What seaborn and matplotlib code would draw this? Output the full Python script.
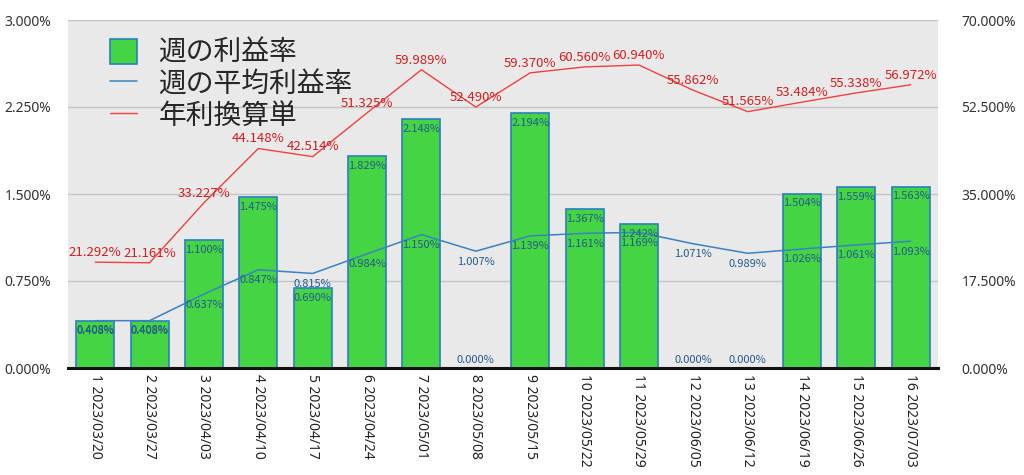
import matplotlib
matplotlib.use("Agg")
import matplotlib.pyplot as plt
import seaborn as sns
import pandas as pd
import numpy as np
from matplotlib.patches import Patch
from matplotlib.lines import Line2D

categories = ["1 2023/03/20", "2 2023/03/27", "3 2023/04/03", "4 2023/04/10",
              "5 2023/04/17", "6 2023/04/24", "7 2023/05/01", "8 2023/05/08",
              "9 2023/05/15", "10 2023/05/22", "11 2023/05/29", "12 2023/06/05",
              "13 2023/06/12", "14 2023/06/19", "15 2023/06/26", "16 2023/07/03"]
weekly = [0.408, 0.408, 1.100, 1.475, 0.690, 1.829, 2.148, 0.000,
          2.194, 1.367, 1.242, 0.000, 0.000, 1.504, 1.559, 1.563]
weekly_avg = [0.408, 0.408, 0.637, 0.847, 0.815, 0.984, 1.150, 1.007,
              1.139, 1.161, 1.169, 1.071, 0.989, 1.026, 1.061, 1.093]
annual = [21.292, 21.161, 33.227, 44.148, 42.514, 51.325, 59.989, 52.490,
          59.370, 60.560, 60.940, 55.862, 51.565, 53.484, 55.338, 56.972]
left_ticks = [0.0, 0.75, 1.5, 2.25, 3.0]
right_ticks = [0.0, 17.5, 35.0, 52.5, 70.0]
legend_labels = ["週の利益率", "週の平均利益率", "年利換算単"]

sns.set_theme(style="white")
plt.rcParams['font.family'] = ['Noto Sans CJK JP', 'DejaVu Sans']

df = pd.DataFrame({"cat": categories, "weekly": weekly,
                   "avg": weekly_avg, "annual": annual,
                   "idx": np.arange(len(categories))})

fig = plt.figure(figsize=(10.24, 4.75), dpi=100)
ax = fig.add_axes([68/1024, 1-368/475, 870/1024, 348/475])
ax.set_facecolor("#e9e9e9")

green = "#44d444"
blue_edge = "#2a7fc0"
blue_line = "#3a82c0"
red = "#f04040"
red_text = "#d02020"
blue_text = "#245a8c"
tick_font = ['Noto Sans', 'DejaVu Sans']

sns.barplot(data=df, x="cat", y="weekly", color=green, saturation=1,
            edgecolor=blue_edge, linewidth=1.2, width=0.7, ax=ax, zorder=2)
sns.lineplot(data=df, x="idx", y="avg", color=blue_line, linewidth=1.1,
             ax=ax, zorder=3)

ax.set_ylim(0, 3.0)
ax.set_xlim(-0.5, len(categories) - 0.5)
ax.set_yticks(left_ticks)
ax.set_yticklabels([f"{t:.3f}%" for t in left_ticks], fontsize=10,
                   color="#333333", family=tick_font)
ax.yaxis.grid(True, color="#c4c4c4", linewidth=1, zorder=0)
ax.set_axisbelow(True)
ax.set_xticks(range(len(categories)))
ax.set_xticklabels(categories, rotation=-90, fontsize=10, color="#222222",
                   va="top", ha="center", family=tick_font)
ax.set_xlabel("")
ax.set_ylabel("")
for s in ["top", "left", "right"]:
    ax.spines[s].set_visible(False)
ax.spines["bottom"].set_color("#111111")
ax.spines["bottom"].set_linewidth(2.2)
ax.tick_params(axis="y", length=0, pad=12)
ax.tick_params(axis="x", length=0, pad=4)

for i, v in enumerate(weekly):
    if v > 0:
        ax.annotate(f"{v:.3f}%", (i, v), xytext=(0, -7), textcoords="offset points",
                    ha="center", va="center", fontsize=8, color=blue_text, zorder=5)
    else:
        ax.annotate(f"{v:.3f}%", (i, v), xytext=(0, 6), textcoords="offset points",
                    ha="center", va="center", fontsize=8, color=blue_text, zorder=5)
for i, v in enumerate(weekly_avg):
    ax.annotate(f"{v:.3f}%", (i, v), xytext=(0, -7.5), textcoords="offset points",
                ha="center", va="center", fontsize=8, color=blue_text, zorder=5)

ax2 = ax.twinx()
sns.lineplot(data=df, x="idx", y="annual", color=red, linewidth=1.0, ax=ax2)
ax2.set_ylim(0, 70)
ax2.set_yticks(right_ticks)
ax2.set_yticklabels([f"{t:.3f}%" for t in right_ticks], fontsize=10,
                    color="#333333", family=tick_font)
ax2.set_ylabel("")
ax2.set_xlabel("")
ax2.tick_params(axis="y", length=0, pad=17)
for s in ["top", "left", "right", "bottom"]:
    ax2.spines[s].set_visible(False)
ax2.grid(False)
for i, v in enumerate(annual):
    ax2.annotate(f"{v:.3f}%", (i, v), xytext=(0, 7), textcoords="offset points",
                 ha="center", va="center", fontsize=9.5, color=red_text)

handles = [Patch(facecolor=green, edgecolor=blue_edge, linewidth=1.2),
           Line2D([], [], color=blue_line, linewidth=1.1),
           Line2D([], [], color=red, linewidth=1.0)]
leg = ax2.legend(handles, legend_labels, loc="upper left",
                 bbox_to_anchor=(0.035, 0.98), frameon=False, fontsize=20,
                 handlelength=1.0, handleheight=1.0, handletextpad=0.75,
                 labelspacing=0.05, borderaxespad=0)

fig.savefig("out.png", dpi=100)
